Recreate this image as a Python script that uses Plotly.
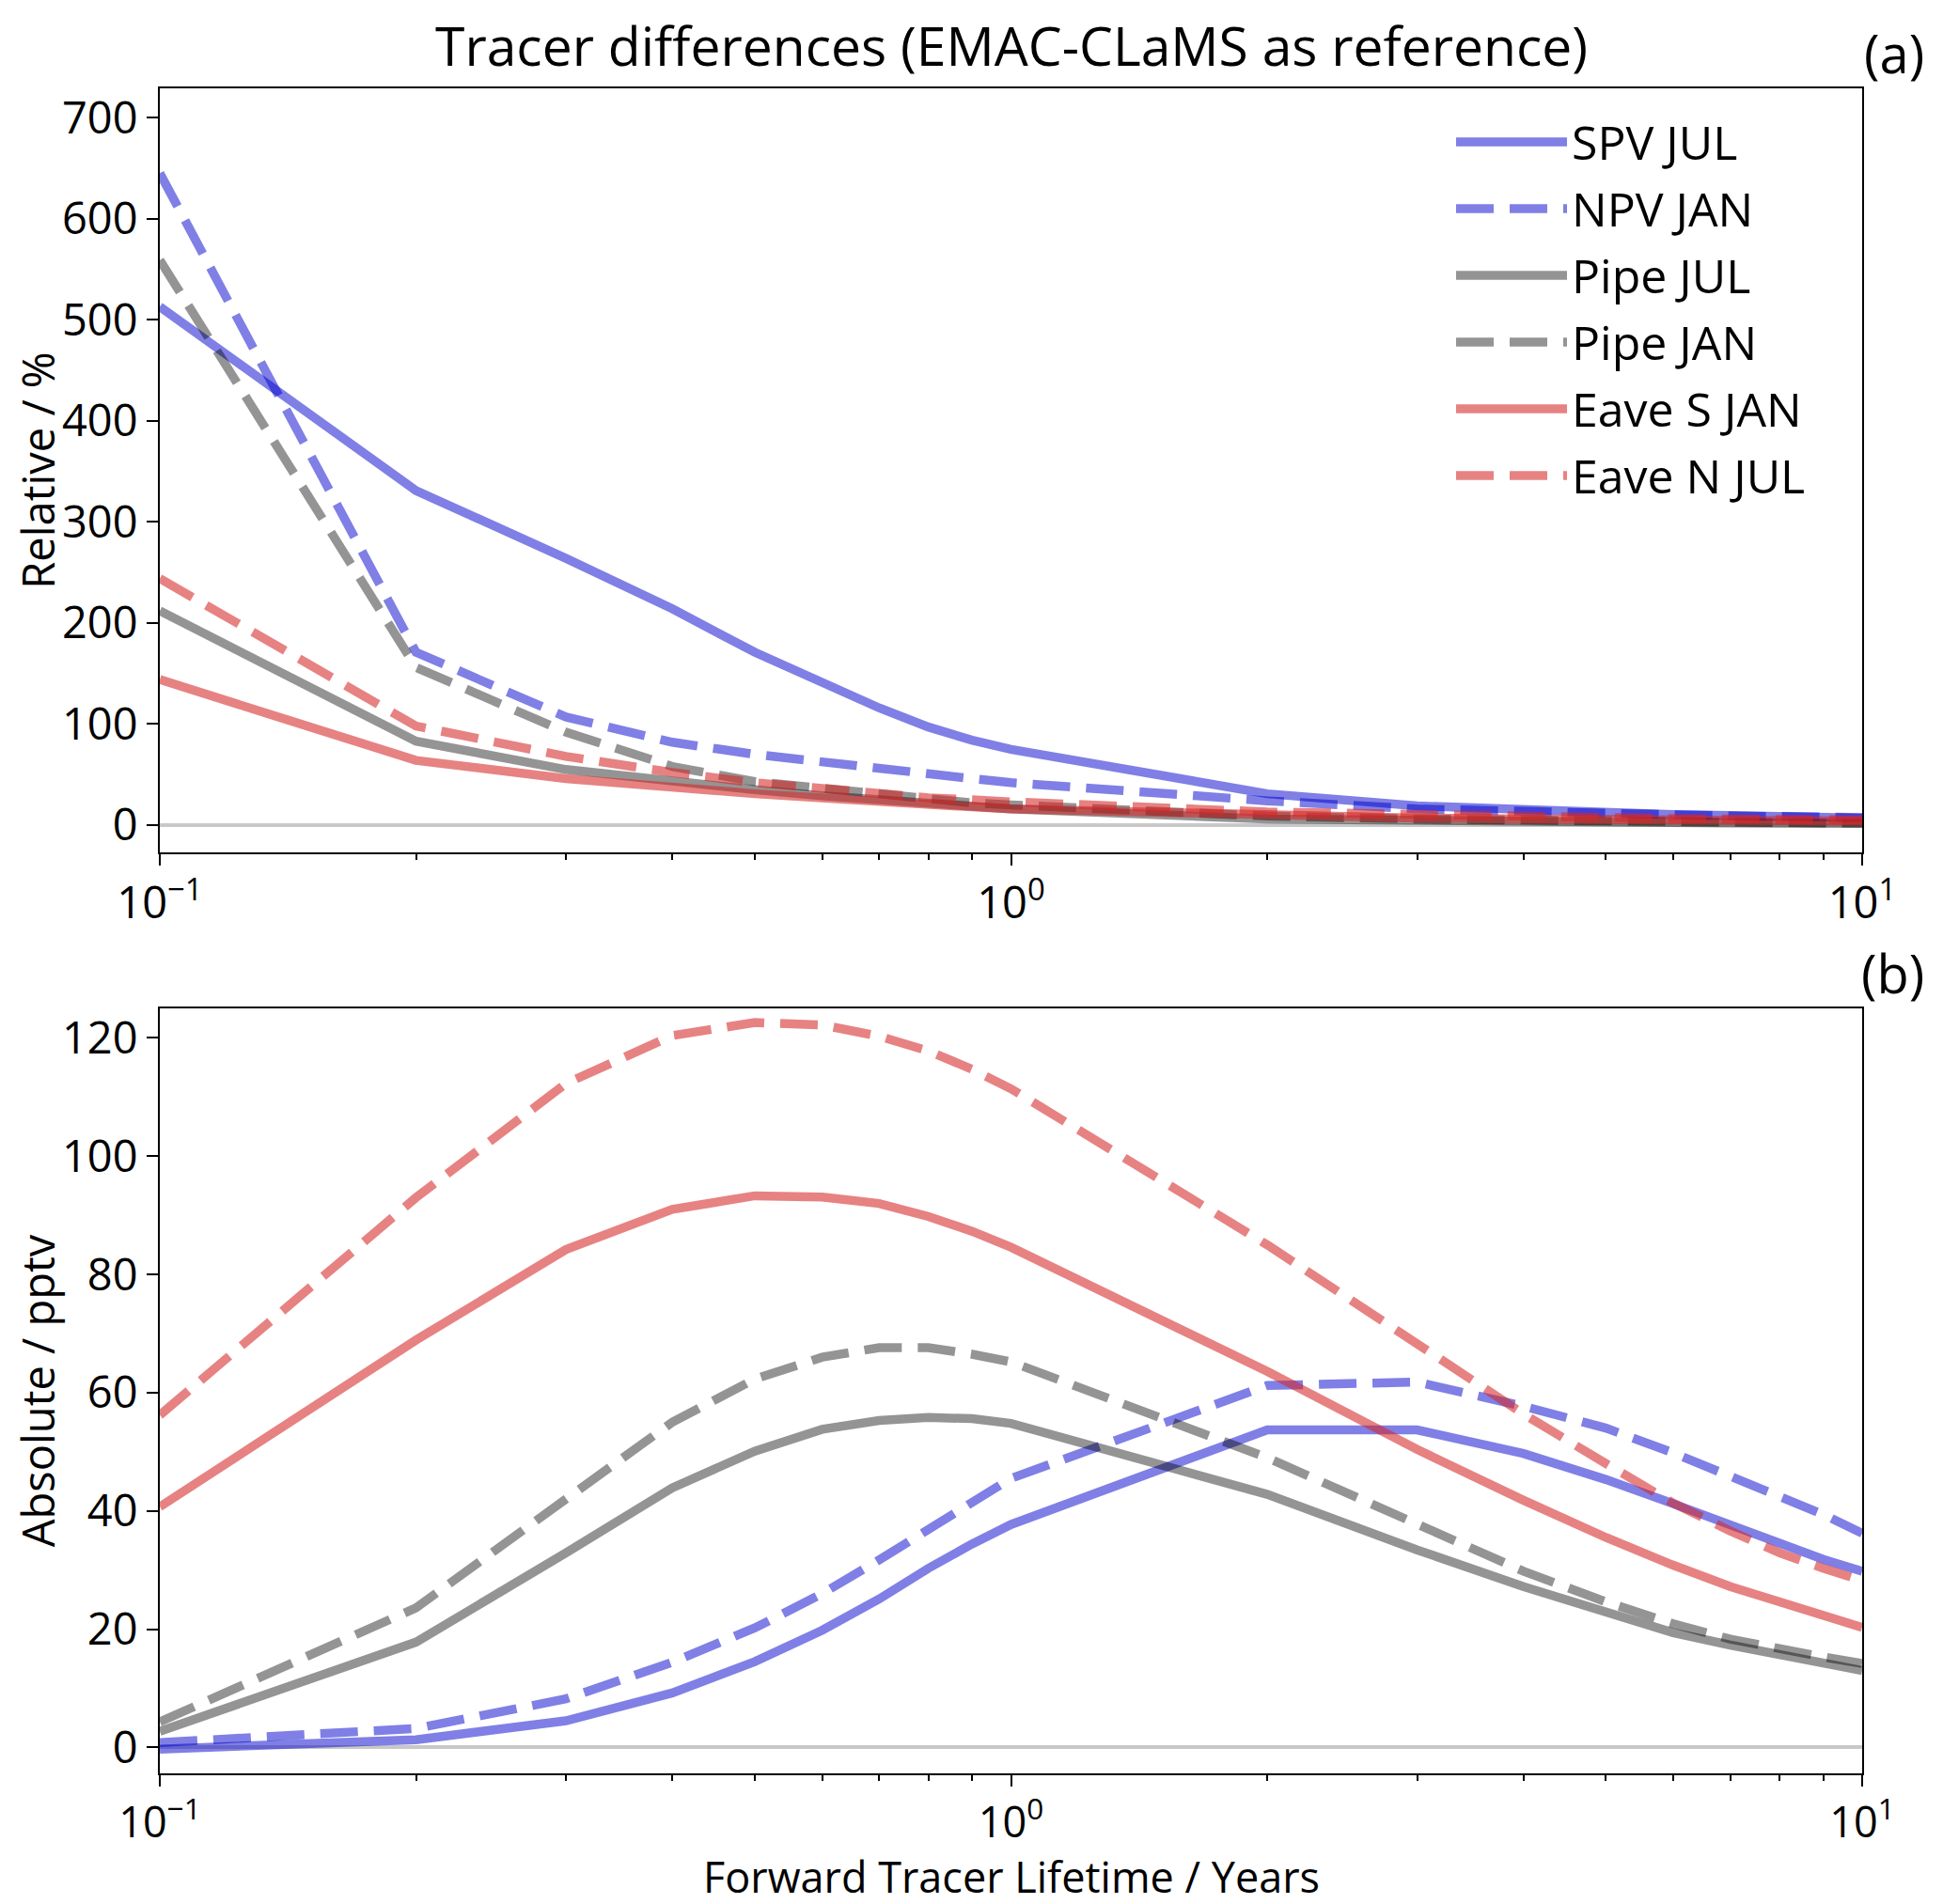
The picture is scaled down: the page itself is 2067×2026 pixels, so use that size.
import plotly.graph_objects as go
from plotly.subplots import make_subplots

lifetime = [0.1, 0.2, 0.3, 0.4, 0.5, 0.6, 0.7, 0.8, 0.9, 1, 2, 3, 4, 5, 6, 7, 8, 9, 10]
series_names = ["SPV JUL", "NPV JAN", "Pipe JUL", "Pipe JAN", "Eave S JAN", "Eave N JUL"]

# Panel (a): relative differences / %
rel_spv_jul = [513, 331, 264, 214, 171, 141, 116, 97, 84, 75, 31, 19, 15, 12, 10.5, 9.5, 8.5, 8, 7]
rel_npv_jan = [645, 171, 107, 82, 70, 62, 56, 50, 46, 42, 24, 16, 13, 11, 10, 9, 8.5, 8, 7.5]
rel_pipe_jul = [212, 83, 55, 43, 35, 29, 25, 21, 18, 16, 6, 4, 3, 2.5, 2.2, 2, 1.8, 1.6, 1.5]
rel_pipe_jan = [559, 156, 92, 58, 43, 36, 30, 26, 22, 20, 9, 6, 4.5, 3.5, 3, 2.6, 2.3, 2.1, 2]
rel_eave_s_jan = [144, 64, 46, 37, 31, 27, 23, 20, 18, 16, 9, 7, 6, 5.5, 5, 4.7, 4.4, 4.2, 4]
rel_eave_n_jul = [244, 98, 68, 52, 42, 36, 31, 27, 25, 23, 13, 10, 8, 7, 6.5, 6, 6, 5.5, 5]

# Panel (b): absolute differences / pptv
abs_spv_jul = [-0.3, 1.3, 4.5, 9.2, 14.5, 19.8, 25.1, 30.3, 34.4, 37.7, 53.7, 53.7, 49.7, 45.3, 41.2, 37.5, 34.4, 31.8, 29.8]
abs_npv_jan = [0.8, 3.2, 8.2, 14.4, 20.2, 26.0, 31.7, 36.9, 41.5, 45.5, 61.2, 61.8, 57.7, 54.0, 49.8, 45.9, 42.5, 39.4, 36.2]
abs_pipe_jul = [2.7, 17.8, 32.9, 43.9, 50.1, 53.8, 55.3, 55.8, 55.6, 54.8, 42.8, 33.4, 27.2, 22.7, 19.4, 17.3, 15.7, 14.4, 13.0]
abs_pipe_jan = [4.3, 23.6, 42.0, 55.0, 62.3, 66.0, 67.6, 67.6, 66.5, 65.2, 49.0, 37.9, 29.8, 24.6, 20.9, 18.3, 16.6, 15.3, 14.2]
abs_eave_s_jan = [40.7, 68.9, 84.2, 91.0, 93.3, 93.1, 92.0, 89.8, 87.3, 84.6, 63.6, 50.4, 41.8, 35.5, 30.8, 27.2, 24.6, 22.2, 20.3]
abs_eave_n_jul = [56.2, 93.0, 112.3, 120.4, 122.6, 122.2, 120.3, 117.8, 114.7, 111.4, 85.0, 68.3, 56.4, 48.0, 41.3, 36.6, 32.9, 30.3, 28.2]

rel_values = [rel_spv_jul, rel_npv_jan, rel_pipe_jul, rel_pipe_jan, rel_eave_s_jan, rel_eave_n_jul]
abs_values = [abs_spv_jul, abs_npv_jan, abs_pipe_jul, abs_pipe_jan, abs_eave_s_jan, abs_eave_n_jul]

BLUE = "rgba(0,0,205,0.5)"
GRAY = "rgba(0,0,0,0.42)"
RED = "rgba(214,39,40,0.58)"
colors = [BLUE, BLUE, GRAY, GRAY, RED, RED]
DASH = "40px,17px"
dashes = ["solid", DASH, "solid", DASH, "solid", DASH]
LW = 9.5

FONT = "Open Sans"
W, H = 2067, 2026
L, R, T, B = 162, 94, 86, 147
TICK_SIZE = 47
LABEL_SIZE = 47

def ydom(top_px, bot_px):
    ph = H - T - B
    return [1 - (bot_px - T) / ph, 1 - (top_px - T) / ph]

fig = make_subplots(rows=2, cols=1)

for i, name in enumerate(series_names):
    fig.add_trace(go.Scatter(x=lifetime, y=rel_values[i], mode="lines", name=name,
                             legendgroup=name,
                             line=dict(color=colors[i], width=LW, dash=dashes[i])),
                  row=1, col=1)
for i, name in enumerate(series_names):
    fig.add_trace(go.Scatter(x=lifetime, y=abs_values[i], mode="lines", name=name,
                             legendgroup=name, showlegend=False,
                             line=dict(color=colors[i], width=LW, dash=dashes[i])),
                  row=2, col=1)

major = [0.1, 1, 10]
major_text = ["10<sup>−1</sup>", "10<sup>0</sup>", "10<sup>1</sup>"]
minor_vals = [0.2, 0.3, 0.4, 0.5, 0.6, 0.7, 0.8, 0.9, 2, 3, 4, 5, 6, 7, 8, 9]

xcommon = dict(type="log", range=[-1, 1], tickmode="array", tickvals=major, ticktext=major_text,
               ticks="outside", ticklen=12, tickwidth=2, tickcolor="black",
               showline=True, linecolor="black", linewidth=2, mirror=True,
               showgrid=False, zeroline=False,
               minor=dict(tickvals=minor_vals, ticks="outside", ticklen=6, tickwidth=1.5, tickcolor="black", showgrid=False),
               tickfont=dict(size=TICK_SIZE, family=FONT, color="black"))
ycommon = dict(ticks="outside", ticklen=12, tickwidth=2, tickcolor="black",
               showline=True, linecolor="black", linewidth=2, mirror=True,
               showgrid=False, zeroline=True, zerolinecolor="#c8c8c8", zerolinewidth=4,
               tickfont=dict(size=TICK_SIZE, family=FONT, color="black"))

fig.update_xaxes(**xcommon)
fig.update_yaxes(**ycommon)

fig.update_layout(
    xaxis=dict(domain=[0, 1]),
    xaxis2=dict(domain=[0, 1], tickfont=dict(size=45, family=FONT, color="black")),
    yaxis=dict(domain=ydom(86, 899), range=[-27, 729], tickvals=[0, 100, 200, 300, 400, 500, 600, 700],
               title=dict(text="Relative / %", font=dict(size=LABEL_SIZE, family=FONT, color="black"), standoff=12)),
    yaxis2=dict(domain=ydom(1065, 1879), range=[-4.4, 125], tickvals=[0, 20, 40, 60, 80, 100, 120],
                title=dict(text="Absolute / pptv", font=dict(size=LABEL_SIZE, family=FONT, color="black"), standoff=12)),
    width=W, height=H,
    margin=dict(l=L, r=R, t=T, b=B),
    paper_bgcolor="white", plot_bgcolor="white",
    font=dict(family=FONT, color="black"),
    legend=dict(x=0.7587, y=0.99, xanchor="left", yanchor="top", bgcolor="rgba(255,255,255,0)",
                font=dict(size=50, family=FONT, color="black"), itemwidth=118,
                tracegroupgap=3, traceorder="grouped"),
    showlegend=True,
)

fig.add_annotation(text="Forward Tracer Lifetime / Years", xref="paper", yref="paper",
                   x=0.5, y=0, yshift=-109, xanchor="center", yanchor="middle", showarrow=False,
                   font=dict(size=45, family=FONT, color="black"))
fig.add_annotation(text="Tracer differences (EMAC-CLaMS as reference)", xref="paper", yref="paper",
                   x=0.5, y=1, yshift=46, xanchor="center", yanchor="middle", showarrow=False,
                   font=dict(size=57, family=FONT, color="black"))
fig.add_annotation(text="(a)", xref="paper", yref="paper", x=1, xshift=68, y=1, yshift=38,
                   xanchor="right", yanchor="middle", showarrow=False,
                   font=dict(size=56, family=FONT, color="black"))
fig.add_annotation(text="(b)", xref="paper", yref="paper", x=1, xshift=68, y=ydom(1065, 1879)[1], yshift=38,
                   xanchor="right", yanchor="middle", showarrow=False,
                   font=dict(size=56, family=FONT, color="black"))

fig.write_html("out.html")
